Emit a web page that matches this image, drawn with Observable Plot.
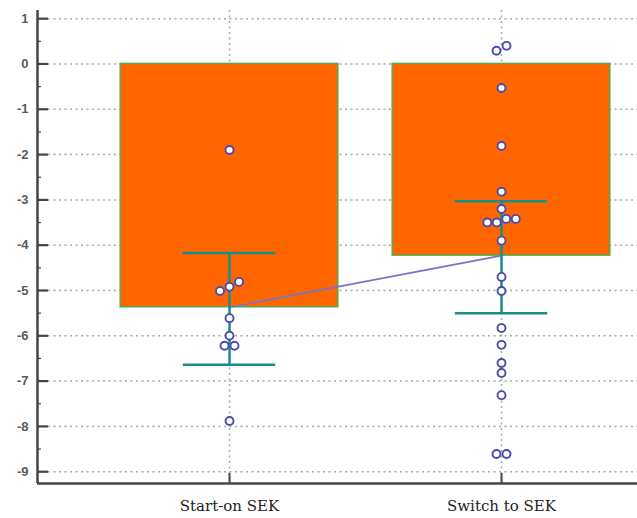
<!DOCTYPE html>
<html>
<head>
<meta charset="utf-8">
<script src="https://cdn.jsdelivr.net/npm/d3@7"></script>
<script src="https://cdn.jsdelivr.net/npm/@observablehq/plot@0.6"></script>
<style>
  html, body { margin: 0; padding: 0; background: #fff; }
</style>
</head>
<body>
<div id="chart"></div>
<script>
// ---- data ----
const categories = ["Start-on SEK", "Switch to SEK"];
const means = [-5.37, -4.23];
const errLow = [-6.64, -5.5];
const errHigh = [-4.17, -3.03];
const startValues = [-1.9, -4.81, -4.92, -5.01, -5.61, -6.0, -6.22, -6.22, -7.88];
const switchValues = [0.4, 0.29, -0.53, -1.81, -2.82, -3.2, -3.42, -3.42, -3.5, -3.5, -3.9,
                      -4.7, -5.01, -5.83, -6.2, -6.6, -6.82, -7.31, -8.61, -8.61];
const yMajorTicks = [1, 0, -1, -2, -3, -4, -5, -6, -7, -8, -9];
const yMinorTicks = [0.5, -0.5, -1.5, -2.5, -3.5, -4.5, -5.5, -6.5, -7.5, -8.5];

// ---- layout ----
const W = 637, H = 518, mL = 37, mR = 0, mT = 10, mB = 35;
const xDomain = [-0.706, 1.5];
const yDomain = [-9.26, 1.18];
const pxPerX = (W - mL - mR) / (xDomain[1] - xDomain[0]);
const pxPerY = (H - mT - mB) / (yDomain[1] - yDomain[0]);

const table = categories.map((c, i) => ({i, c, mean: means[i], lo: errLow[i], hi: errHigh[i]}));

// simple symmetric dodge: clusters of overlapping points spread in a row (low values to the left)
function dodge(values, i) {
  const sorted = values.map((v, k) => ({v, k})).sort((a, b) => a.v - b.v);
  const clusters = [];
  for (const p of sorted) {
    const last = clusters[clusters.length - 1];
    if (last && Math.abs(last[last.length - 1].v - p.v) * pxPerY < 7) last.push(p);
    else clusters.push([p]);
  }
  const out = [];
  for (const cl of clusters) {
    const n = cl.length;
    const step = n >= 3 ? 9.5 : 10;
    cl.forEach((p, j) => {
      const offPx = (j - (n - 1) / 2) * step;
      out.push({cat: categories[i], i, v: p.v, x: i + offPx / pxPerX});
    });
  }
  return out;
}
const points = [...dodge(startValues, 0), ...dodge(switchValues, 1)];

const frameW = W - mL - mR, frameH = H - mT - mB;
const axisColor = "#454545";
const gridStyle = {stroke: "#a8a8a8", strokeWidth: 1.5, strokeDasharray: "2,3.5"};

const chart = Plot.plot({
  width: W, height: H,
  marginLeft: mL, marginRight: mR, marginTop: mT, marginBottom: mB,
  x: {domain: xDomain, axis: null},
  y: {domain: yDomain, axis: null},
  style: {background: "#fff", overflow: "visible"},
  marks: [
    // grid
    Plot.ruleY(yMajorTicks, {y: d => d, ...gridStyle}),
    Plot.ruleX(table, {x: "i", ...gridStyle}),
    // bars
    Plot.rectY(table, {x1: d => d.i - 0.4, x2: d => d.i + 0.4, y1: 0, y2: "mean",
      fill: "#FF6600", stroke: "#52a852", strokeWidth: 1.5}),
    // line connecting means
    Plot.line(table, {x: "i", y: "mean", stroke: "#7474cc", strokeWidth: 1.6}),
    // error bars
    Plot.ruleX(table, {x: "i", y1: "lo", y2: "hi", stroke: "#1a8c8c", strokeWidth: 2.5}),
    Plot.ruleY(table, {y: "lo", x1: d => d.i - 0.17, x2: d => d.i + 0.17, stroke: "#1a8c8c", strokeWidth: 2.5}),
    Plot.ruleY(table, {y: "hi", x1: d => d.i - 0.17, x2: d => d.i + 0.17, stroke: "#1a8c8c", strokeWidth: 2.5}),
    // points
    Plot.dot(points, {x: "x", y: "v", r: 4, fill: "#fff", stroke: "#4b4bae", strokeWidth: 1.9}),
    // axes lines
    Plot.ruleX([xDomain[0]], {stroke: axisColor, strokeWidth: 2.5}),
    Plot.ruleY([yDomain[0]], {stroke: axisColor, strokeWidth: 2.5}),
    // inward y ticks
    Plot.tickY(yMajorTicks, {y: d => d, insetRight: frameW - 11, stroke: axisColor, strokeWidth: 2.2}),
    Plot.tickY(yMinorTicks, {y: d => d, insetRight: frameW - 4, stroke: axisColor, strokeWidth: 1.2}),
    // inward x ticks
    Plot.tickX(table, {x: "i", insetTop: frameH - 10, stroke: axisColor, strokeWidth: 2}),
    // y labels
    Plot.axisY({ticks: yMajorTicks, tickSize: 0, tickPadding: 9, tickFormat: d => String(d),
      fontFamily: "Liberation Sans, Arial, sans-serif", fontWeight: "bold", fontSize: 13,
      fill: "#5a5a5a", label: null}),
    // x labels
    Plot.axisX({ticks: [0, 1], tickSize: 0, tickPadding: 17, tickFormat: d => categories[d],
      fontFamily: "DejaVu Serif, Liberation Serif, serif", fontSize: 15, fill: "#222", label: null})
  ]
});
document.getElementById("chart").appendChild(chart);
</script>
</body>
</html>
